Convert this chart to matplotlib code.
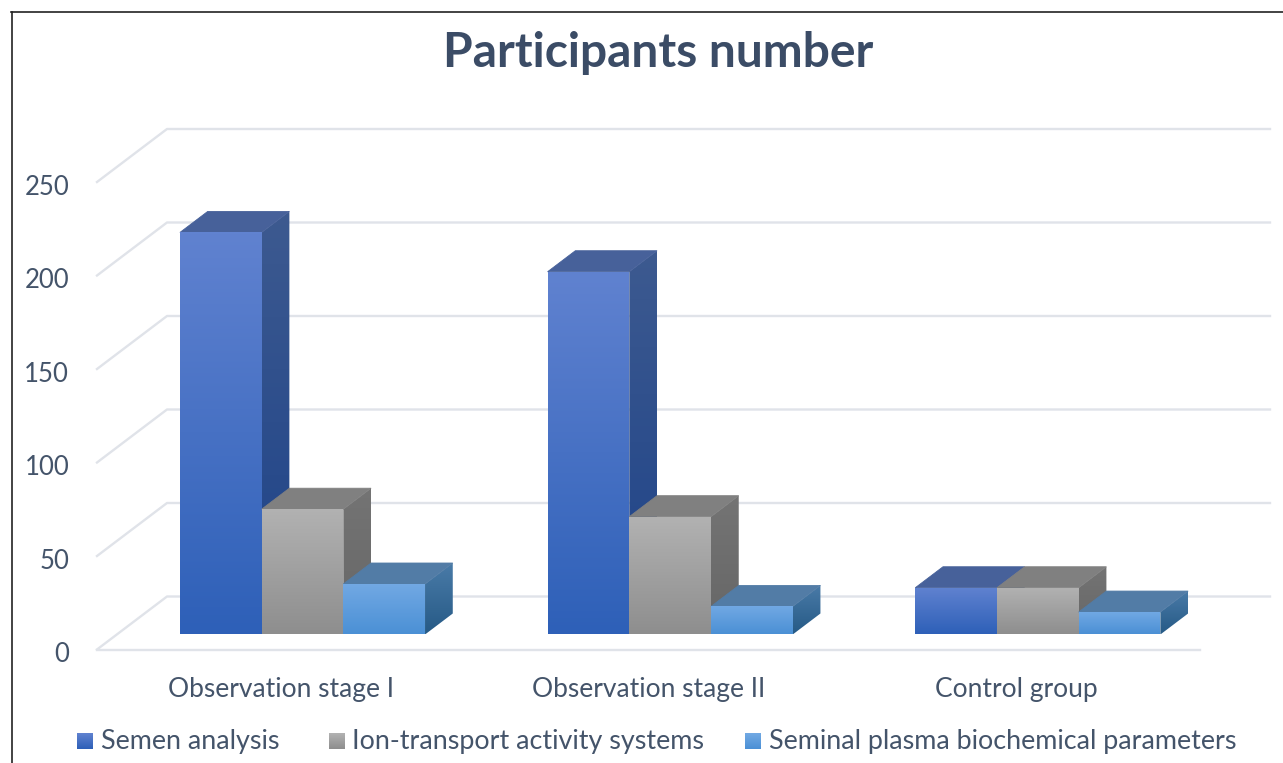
import matplotlib
matplotlib.use("Agg")
import matplotlib.pyplot as plt
import numpy as np
from matplotlib.colors import LinearSegmentedColormap
from matplotlib.lines import Line2D
from matplotlib.patches import Polygon
from matplotlib.transforms import ScaledTranslation

categories = ["Observation stage I", "Observation stage II", "Control group"]
series_names = ["Semen analysis", "Ion-transport activity systems", "Seminal plasma biochemical parameters"]
semen = [215, 194, 25]
ion_transport = [67, 63, 25]
seminal_plasma = [27, 15, 12]
y_ticks = [0, 50, 100, 150, 200, 250]

W, H = 1283, 763
TEXT = "#44546a"
GRID = "#e0e3e9"
FONT = "Lato"

# colours per series: front top/bottom, side top/bottom, top face
front_colors = [("#6082d0", "#2e60b8"), ("#b2b2b2", "#8e8e8e"), ("#72a9e4", "#4b90d5")]
side_colors = [("#3d5a90", "#1d4288"), ("#747474", "#666666"), ("#4a7ba8", "#265a86")]
top_colors = ["#47619a", "#808080", "#527ca6"]

# fake 3D: depth shift of the back wall, in axis units
DEPTH_X = 70 / 367.67
DEPTH_Y = 53 / 1.87
BAR_W = 81.7 / 367.67
D_FRONT = 15 / 53
D_BACK = 36 / 53
GROUP_SHIFT = 0.005


def gradient(ax, fig, verts, c_top, c_bottom, zorder):
    xs, ys = zip(*verts)
    cmap = LinearSegmentedColormap.from_list("g", [c_top, c_bottom])
    im = ax.imshow(np.linspace(0, 1, 128).reshape(-1, 1), cmap=cmap, aspect="auto",
                   extent=(min(xs), max(xs), min(ys), max(ys)), origin="upper",
                   zorder=zorder, interpolation="bilinear")
    clip = Polygon(verts, closed=True, fill=False, edgecolor="none", clip_on=False, zorder=zorder)
    ax.add_patch(clip)
    im.set_clip_path(clip)
    im.set_clip_box(fig.bbox)


def draw_bar(ax, fig, x0, val, s, zorder):
    xa, xb = x0, x0 + BAR_W
    dx = (D_BACK - D_FRONT) * DEPTH_X
    dy = (D_BACK - D_FRONT) * DEPTH_Y
    # values are measured up from the bar's own base on the floor
    base = D_FRONT * DEPTH_Y
    top_f = base + val
    front = [(xa, base), (xb, base), (xb, top_f), (xa, top_f)]
    side = [(xb, base), (xb + dx, base + dy), (xb + dx, top_f + dy), (xb, top_f)]
    top = [(xa, top_f), (xb, top_f), (xb + dx, top_f + dy), (xa + dx, top_f + dy)]
    gradient(ax, fig, side, side_colors[s][0], side_colors[s][1], zorder)
    ax.add_patch(Polygon(top, closed=True, facecolor=top_colors[s], edgecolor=top_colors[s],
                         lw=0.6, clip_on=False, zorder=zorder + 0.1))
    gradient(ax, fig, front, front_colors[s][0], front_colors[s][1], zorder + 0.2)


fig = plt.figure(figsize=(W / 100, H / 100), dpi=100)
ax = fig.add_axes([97 / W, (H - 649.5) / H, 1103 / W, 467.5 / H])

# wall and floor lines
for v in y_ticks:
    ax.plot([-0.5, -0.5 + DEPTH_X, 2.5 + DEPTH_X], [v, v + DEPTH_Y, v + DEPTH_Y],
            color=GRID, lw=1.7, clip_on=False, zorder=1)
ax.plot([-0.5, 2.5], [0, 0], color=GRID, lw=1.7, clip_on=False, zorder=1)

all_values = [semen, ion_transport, seminal_plasma]
order = 2
for i in range(len(categories)):
    for s, values in enumerate(all_values):
        x0 = i + GROUP_SHIFT + D_FRONT * DEPTH_X + (s - 1.5) * BAR_W
        draw_bar(ax, fig, x0, values[i], s, order)
        order += 1

ax.set_xlim(-0.5, 2.5)
ax.set_ylim(0, 250)
ax.set_xticks(range(len(categories)))
ax.set_xticklabels(categories, fontsize=19, color=TEXT, family=FONT)
ax.set_yticks(y_ticks)
ax.set_yticklabels([str(t) for t in y_ticks], fontsize=18.5, color=TEXT, family=FONT)
ax.tick_params(axis="x", length=0, pad=20)
ax.tick_params(axis="y", length=0, pad=20)
shift = ScaledTranslation(0, -2 / 72, fig.dpi_scale_trans)
for lb in ax.get_yticklabels():
    lb.set_transform(lb.get_transform() + shift)
for sp in ax.spines.values():
    sp.set_visible(False)
ax.patch.set_alpha(0)

fig.text(658 / W, 1 - 53 / H, "Participants number", fontsize=34.6, fontweight="bold",
         color="#3b4c66", family=FONT, ha="center", va="center")

# legend row
swatch_x = [77, 329, 745]
text_x = [101, 352, 769]
for s, name in enumerate(series_names):
    sw = fig.add_axes([swatch_x[s] / W, (H - 749) / H, 16 / W, 16 / H])
    cmap = LinearSegmentedColormap.from_list("g", list(front_colors[s]))
    sw.imshow(np.linspace(0, 1, 32).reshape(-1, 1), cmap=cmap, aspect="auto")
    sw.axis("off")
    fig.text(text_x[s] / W, 1 - 742 / H, name, fontsize=19.4, color=TEXT, family=FONT,
             ha="left", va="center")

# outer frame, open on the right and bottom
fig.add_artist(Line2D([11.5 / W, 11.5 / W], [0, 1 - 12 / H], color="#222222", lw=1.2))
fig.add_artist(Line2D([11 / W, 1], [1 - 12 / H, 1 - 12 / H], color="#222222", lw=1.2))

fig.savefig("out.png", dpi=100)
plt.close(fig)
